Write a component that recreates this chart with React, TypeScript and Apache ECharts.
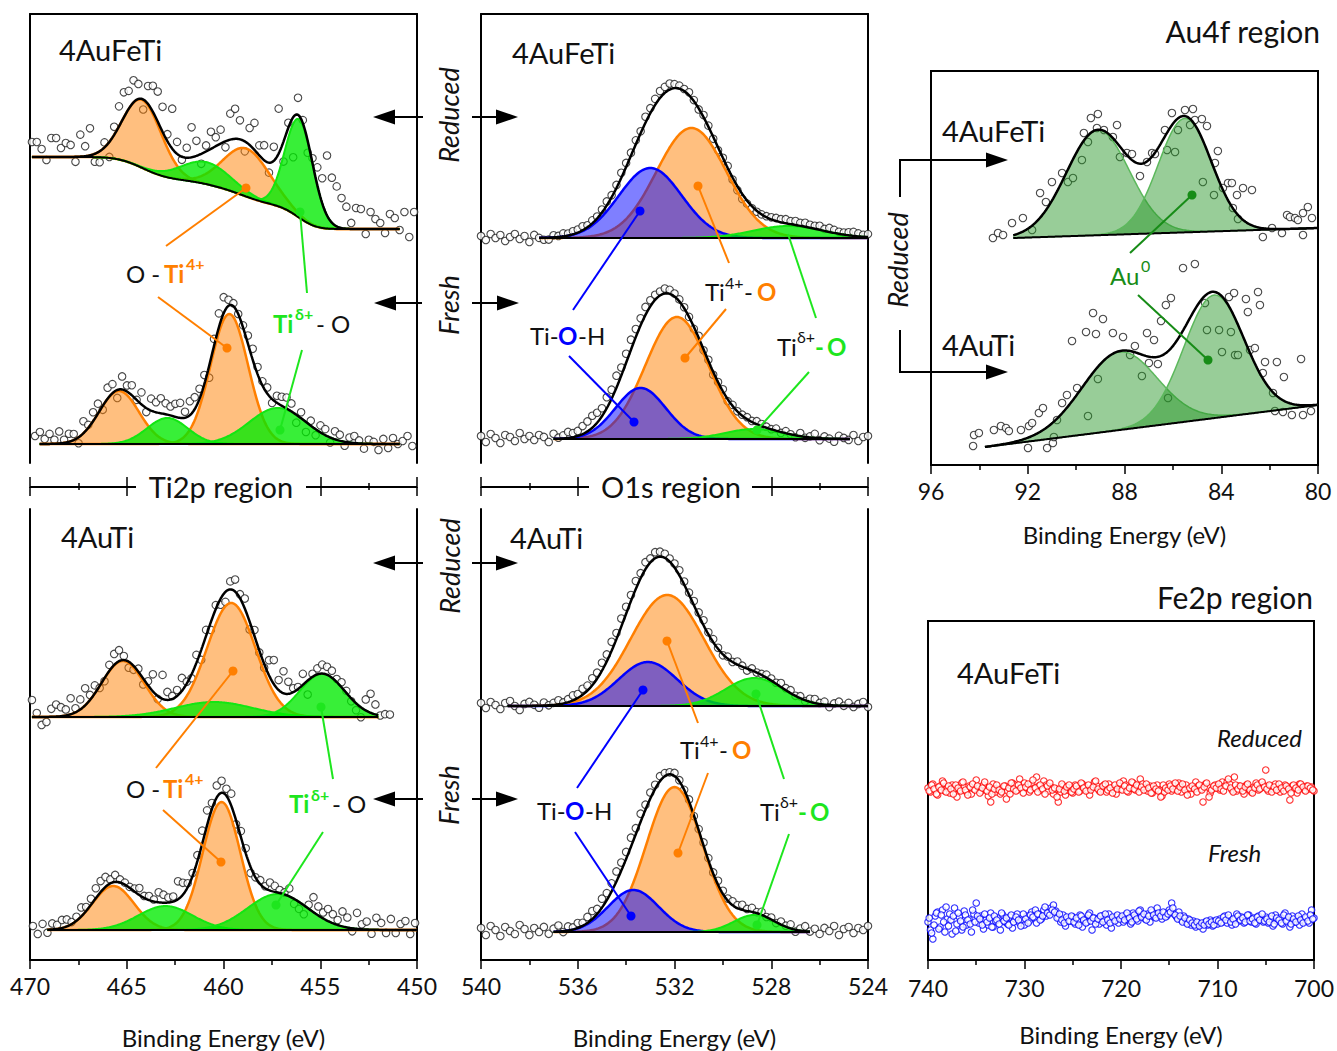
import React, { useEffect, useRef } from 'react';
import * as echarts from 'echarts';

const FONT = 'Lato';

// ===================== DATA =====================
// Axis ranges: [min, max, interval] in binding energy (eV)
const ti2pAxis = [450, 470, 5];
const o1sAxis = [524, 540, 4];
const au4fAxis = [80, 96, 4];
const fe2pAxis = [700, 740, 10];

// ---- Ti2p, 4AuFeTi, reduced (fit components: centre eV, height a.u., sigma eV) ----
const tiFeRedCenters = [464.2, 460.9, 458.8, 456.1];
const tiFeRedHeights = [68, 22, 48, 98];
const tiFeRedWidths = [1.0, 1.3, 1.2, 0.72];
const tiFeRedSpecies = ['Ti4+', 'Tid+', 'Ti4+', 'Tid+'];
const tiFeRedShirley = [306, 234];
const tiFeRedFit = [469.9, 450.9];
const tiFeRedScan = [469.9, 0.25];
const tiFeRedResid = [
  15, 15, 8, -3, 19, 19, 9, 14, 12, -5,
  22, 10, 27, -8, -11, 5, -15, 8, 20, 25,
  18, 22, 15, -10, 18, 26, 30, 25, 7, 40,
  12, -3, 10, 30, 15, -10, 6, 17, 9, 14,
  -6, 26, 30, 19, -10, 17, 27, 10, 15, -10,
  14, 45, -20, 5, -40, 17, 3, -12, 5, 18,
  25, 60, 45, 40, 30, 22, 6, 21, 20, -5,
  17, 10, 6, -4, 15, 11, -1, 17, -8, 17,
];

// ---- Ti2p, 4AuFeTi, fresh ----
const tiFeFreshCenters = [465.4, 462.9, 459.7, 457.2];
const tiFeFreshHeights = [53, 26, 130, 36];
const tiFeFreshWidths = [1.03, 1.05, 0.97, 1.47];
const tiFeFreshSpecies = ['Ti4+', 'Tid+', 'Ti4+', 'Tid+'];
const tiFeFreshShirley = [19, 19];
const tiFeFreshFit = [469.5, 450.9];
const tiFeFreshScan = [469.74, 0.25];
const tiFeFreshResid = [
  8, 12, 5, 10, 4, 12, 3, 8, 6, -6,
  12, 3, 9, 10, -4, 11, 9, -8, 13, 6,
  10, 0, 12, -4, 12, 10, 15, 11, 9, 13,
  15, 6, 14, 12, 10, 9, -12, 7, 14, 16,
  6, 3, 0, 2, 8, 11, 7, 4, 6, -4,
  7, 9, 11, 8, -8, 6, -10, 5, -6, 7,
  6, -5, 8, 6, -4, 5, 7, 3, -5, 4,
  2, -6, 5, -4, 6, 0, 3, 8, -2, 11,
];

// ---- Ti2p, 4AuTi, reduced ----
const tiRedCenters = [465.2, 460.5, 459.6, 454.9];
const tiRedHeights = [56, 15, 114, 43];
const tiRedWidths = [1.1, 2.0, 1.25, 1.16];
const tiRedSpecies = ['Ti4+', 'Tid+', 'Ti4+', 'Tid+'];
const tiRedShirley = [243, 243];
const tiRedFit = [469.9, 452.0];
const tiRedScan = [469.9, 0.25];
const tiRedResid = [
  17, 4, -8, -5, 8, 12, 9, 6, 16, 4,
  10, 17, 5, 8, -2, -3, 6, 11, 11, 4,
  -6, -4, 3, -6, 4, 17, -3, 24, 8, 3,
  6, 13, 2, -4, 8, -10, 6, -8, 4, -6,
  -10, 8, 12, 4, 10, -8, 6, -2, -4, 15,
  24, 10, 22, 12, 4, 2, 11, -14, 3, 6,
  9, 8, 7, 3, 5, 2, -3, -7, -10, 11,
  19, 10, 0, 2, 2,
];

// ---- Ti2p, 4AuTi, fresh ----
const tiFreshCenters = [465.7, 463.0, 460.1, 457.2];
const tiFreshHeights = [44, 24, 128, 36];
const tiFreshWidths = [1.07, 1.4, 0.97, 1.56];
const tiFreshSpecies = ['Ti4+', 'Tid+', 'Ti4+', 'Tid+'];
const tiFreshShirley = [30, 30];
const tiFreshFit = [469.1, 450.0];
const tiFreshScan = [469.85, 0.25];
const tiFreshResid = [
  4, -4, 6, -3, 6, 4, 8, 7, 2, 4,
  9, 4, 6, 10, 11, 10, 4, 7, 3, 2,
  1, 3, 7, 2, 4, 2, 10, 8, 5, 5,
  18, 12, 4, 3, 6, 13, 15, 6, 12, 12,
  7, 12, -4, 6, 5, -6, 0, 4, 2, 8,
  6, 3, 2, 8, -5, -7, -9, 4, 15, 9,
  6, 12, 9, 5, 15, 10, -3, 16, 5, 8,
  -4, 12, 7, -3, 11, -3, 6, 9, -4, 7,
];

// ---- O1s, 4AuFeTi, reduced ----
const oFeRedCenters = [531.3, 533.0, 527.3];
const oFeRedHeights = [110, 70, 12];
const oFeRedWidths = [1.44, 1.3, 1.45];
const oFeRedSpecies = ['Ti4+-O', 'Ti-O-H', 'Tid+-O'];
const oFeRedShirley = [225, 225];
const oFeRedFit = [537.6, 524.0];
const oFeRedScan = [540, 0.2];
const oFeRedResid = [
  2, -2, 4, 0, 3, -3, 1, 4, -1, 2,
  -4, 3, 0, -2, -2, 2, 1, 3, 2, 3,
  3, 4, 2, 3, 2, 3, 4, 2, 3, 5,
  4, 3, 4, 2, 6, 5, 6, 7, 6, 6,
  4, 3, 2, 3, 1, -1, 2, 1, -2, -3,
  0, 2, -2, -4, -5, -3, -2, -1, 0, 1,
  2, 3, 3, 4, 3, 4, 3, 4, 3, 3,
  4, 2, 4, 3, 2, 2, 3, 4, 3, 2,
  3,
];

// ---- O1s, 4AuFeTi, fresh ----
const oFeFreshCenters = [531.9, 533.4, 528.7];
const oFeFreshHeights = [122, 51, 10];
const oFeFreshWidths = [1.3, 1.04, 1.2];
const oFeFreshSpecies = ['Ti4+-O', 'Ti-O-H', 'Tid+-O'];
const oFeFreshShirley = [24, 24];
const oFeFreshFit = [537.0, 524.75];
const oFeFreshScan = [540, 0.2];
const oFeFreshResid = [
  3, -3, 5, 1, -4, 4, 2, -2, 6, 0,
  3, -1, 4, 2, -3, 5, 1, 3, 6, 4,
  5, 8, 10, 12, 10, 8, 11, 9, 12, 8,
  9, 10, 8, 7, 8, 6, 5, 4, 5, 4,
  3, 2, 1, 0, -2, 2, -1, 1, -3, 0,
  2, -2, 1, 0, 1, 2, 1, 3, 2, 1,
  0, 2, -1, 2, 0, -2, 3, -1, 1, 4,
  -2, 2, 0, -3, 3, 1, -1, 4, -2, 2,
  3,
];

// ---- O1s, 4AuTi, reduced ----
const oRedCenters = [532.3, 533.1, 528.7];
const oRedHeights = [111, 44, 28];
const oRedWidths = [1.51, 1.21, 1.18];
const oRedSpecies = ['Ti4+-O', 'Ti-O-H', 'Tid+-O'];
const oRedShirley = [254, 254];
const oRedFit = [538.9, 524.0];
const oRedScan = [540, 0.2];
const oRedResid = [
  3, -2, 4, 1, -3, 3, 5, 0, -4, 2,
  4, 1, -2, 3, 0, 2, 4, 1, 3, 5,
  4, 6, 5, 7, 6, 8, 7, 9, 6, 8,
  7, 6, 8, 5, 7, 4, 6, 5, 4, 3,
  4, 5, 3, 2, 4, 3, 5, 2, 3, 1,
  -1, 2, 0, 3, 1, -2, 2, 0, 1, 3,
  2, 1, 4, 2, 3, 0, 2, -1, 3, 4,
  1, 3, -2, 2, 4, 0, 3, -1, 2, 4,
  -1,
];

// ---- O1s, 4AuTi, fresh ----
const oFreshCenters = [532.0, 533.7, 528.7];
const oFreshHeights = [145, 42, 17];
const oFreshWidths = [1.16, 1.04, 0.85];
const oFreshSpecies = ['Ti4+-O', 'Ti-O-H', 'Tid+-O'];
const oFreshShirley = [28, 28];
const oFreshFit = [537.0, 526.4];
const oFreshScan = [540, 0.2];
const oFreshResid = [
  4, -3, 6, 2, -4, 5, 1, -2, 7, 3,
  -3, 4, 0, 5, -2, 3, 6, -1, 4, 2,
  5, 3, 6, 8, 5, 9, 7, 8, 10, 8,
  7, 9, 6, 8, 5, 6, 4, 5, 3, 2,
  3, 1, 0, 2, -1, 1, 3, 2, 1, 4,
  3, 2, 4, 3, 5, 2, 4, 1, 3, 0,
  2, -1, 3, 1, 4, -2, 2, 5, 0, 3,
  -2, 4, 1, 6, -3, 3, 5, -1, 4, 2,
  6,
];

// ---- Au4f, 4AuFeTi reduced ----
const auFeCenters = [89.1, 85.5];
const auFeHeights = [105, 114];
const auFeWidths = [1.3, 1.1];
const auFeSpecies = ['Au0', 'Au0'];
const auFeLinearBg = [92.6, 227, 80.0, 237];
const auFeFit = [92.6, 80.0];
const auFeE = [93.44, 93.23, 93.02, 92.65, 92.2, 91.82, 91.49, 91.25, 91.0, 90.58, 90.34, 90.13, 89.76, 89.68, 89.51, 89.39, 89.14, 89.1, 88.85, 88.48, 88.31, 88.19, 87.9, 87.69, 87.36, 87.07, 86.86, 86.74, 86.33, 86.24, 86.04, 85.91, 85.79, 85.5, 85.29, 85.17, 85.09, 84.8, 84.76, 84.59, 84.3, 84.26, 84.14, 83.93, 83.72, 83.56, 83.52, 83.35, 83.31, 83.1, 82.73, 82.28, 81.9, 81.49, 81.28, 81.16, 80.95, 80.83, 80.62, 80.62, 80.42, 80.25];
const auFeI = [227, 232, 230, 242, 247, 235, 272, 263, 283, 292, 283, 287, 305, 332, 323, 347, 337, 351, 335, 328, 340, 308, 312, 311, 289, 303, 312, 311, 335, 315, 352, 313, 335, 355, 340, 356, 345, 346, 283, 339, 270, 302, 314, 277, 282, 282, 257, 270, 246, 277, 275, 228, 237, 232, 250, 248, 247, 245, 252, 230, 258, 247];

// ---- Au4f, 4AuTi reduced ----
const auCenters = [88.2, 84.3];
const auHeights = [78, 123];
const auWidths = [1.55, 1.25];
const auSpecies = ['Au0', 'Au0'];
const auLinearBg = [93.77, 18, 80.0, 60];
const auFit = [93.77, 80.0];
const auE = [94.26, 94.22, 94.02, 93.4, 93.11, 92.9, 92.78, 92.28, 91.99, 91.95, 91.82, 91.54, 91.37, 91.2, 90.96, 90.92, 90.79, 90.58, 90.38, 90.17, 89.96, 89.59, 89.51, 89.3, 89.18, 89.1, 88.89, 88.48, 88.06, 87.77, 87.57, 87.28, 87.07, 86.99, 86.78, 86.62, 86.49, 86.29, 86.2, 86.08, 85.58, 85.09, 84.67, 84.59, 84.09, 83.97, 83.68, 83.6, 83.47, 83.43, 83.31, 82.98, 82.9, 82.81, 82.61, 82.48, 82.4, 82.28, 82.19, 81.86, 81.78, 81.7, 81.45, 81.41, 81.08, 80.7, 80.62, 80.29];
const auI = [19, 30, 32, 35, 39, 37, 34, 35, 17, 39, 42, 52, 57, 17, 22, 28, 45, 62, 70, 124, 77, 133, 49, 152, 131, 86, 146, 132, 128, 110, 119, 89, 132, 102, 125, 101, 144, 160, 67, 167, 197, 201, 162, 135, 135, 113, 168, 133, 172, 110, 110, 166, 153, 115, 117, 173, 160, 92, 103, 72, 54, 103, 53, 88, 50, 106, 50, 54];

// ---- Fe2p, 4AuFeTi: two interleaved 0.25 eV passes (740 -> 700 eV) ----
const feScanA = [740, 0.25];
const feScanB = [739.875, 0.25];
const feReducedA = [
  172, 168, 176, 170, 165, 174, 179, 169, 172, 167, 175, 171, 163, 170, 177, 173, 168, 174, 166, 171,
  180, 172, 169, 175, 170, 164, 158, 176, 168, 171, 166, 172, 174, 169, 166, 177, 175, 170, 181, 173,
  177, 171, 168, 176, 172, 183, 174, 170, 179, 175, 169, 173, 166, 171, 158, 168, 174, 165, 170, 172,
  167, 175, 171, 169, 176, 173, 170, 165, 172, 178, 174, 169, 171, 175, 168, 176, 172, 170, 166, 174,
  171, 179, 175, 168, 172, 177, 170, 173, 181, 176, 172, 169, 174, 167, 171, 175, 170, 164, 168, 172,
  176, 169, 174, 171, 177, 168, 173, 175, 170, 166, 172, 178, 174, 171, 158, 176, 173, 167, 171, 175,
  172, 170, 178, 174, 178, 176, 170, 183, 169, 174, 172, 166, 175, 171, 168, 173, 177, 170, 172, 175,
  190, 169, 174, 171, 176, 170, 168, 173, 175, 172, 160, 174, 171, 167, 176, 172, 170, 174, 171, 173,
  169,
];
const feReducedB = [
  169, 175, 171, 166, 173, 170, 177, 168, 174, 171, 166, 175, 172, 169, 178, 170, 165, 173, 176, 170,
  174, 167, 172, 178, 169, 173, 166, 171, 175, 170, 168, 174, 161, 172, 177, 171, 169, 175, 172, 167,
  173, 176, 170, 180, 172, 168, 175, 171, 166, 174, 177, 170, 172, 163, 171, 176, 169, 173, 175, 168,
  171, 174, 168, 177, 172, 169, 175, 170, 173, 179, 171, 168, 174, 176, 170, 172, 167, 175, 171, 177,
  170, 174, 169, 172, 178, 171, 175, 168, 173, 170, 176, 172, 167, 174, 171, 169, 163, 175, 172, 170,
  174, 171, 177, 169, 173, 176, 170, 165, 172, 174, 171, 168, 175, 170, 173, 177, 163, 170, 174, 172,
  176, 171, 169, 174, 181, 172, 168, 175, 171, 174, 169, 173, 176, 170, 167, 172, 175, 171, 178, 173,
  171, 175, 168, 173, 170, 176, 172, 169, 174, 171, 167, 175, 172, 170, 176, 173, 169, 174, 172, 170,
];
const feFreshA = [
  38, 30, 21, 44, 48, 33, 50, 28, 41, 46, 26, 52, 36, 43, 30, 49, 35, 41, 28, 46,
  57, 37, 44, 31, 40, 35, 47, 33, 39, 42, 30, 45, 38, 36, 43, 32, 41, 46, 37, 40,
  35, 44, 39, 48, 42, 37, 46, 41, 50, 44, 47, 52, 55, 49, 43, 38, 45, 34, 41, 39,
  43, 36, 40, 45, 33, 41, 38, 47, 30, 42, 39, 36, 44, 41, 35, 46, 32, 40, 43, 37,
  42, 38, 45, 40, 36, 47, 43, 39, 50, 44, 41, 46, 38, 48, 43, 52, 45, 41, 47, 44,
  50, 57, 46, 43, 48, 40, 44, 38, 41, 35, 39, 33, 37, 36, 31, 38, 35, 40, 34, 39,
  36, 41, 38, 44, 37, 42, 35, 40, 46, 39, 43, 37, 41, 45, 38, 42, 36, 44, 40, 38,
  43, 37, 41, 34, 45, 39, 42, 36, 47, 40, 33, 44, 38, 41, 35, 46, 39, 42, 37, 50,
  42,
];
const feFreshB = [
  42, 27, 35, 47, 31, 45, 38, 53, 34, 40, 44, 29, 47, 39, 33, 45, 40, 36, 50, 38,
  44, 41, 35, 46, 38, 42, 33, 44, 40, 36, 47, 39, 42, 35, 45, 38, 43, 40, 34, 46,
  41, 37, 45, 43, 50, 46, 40, 44, 53, 47, 45, 50, 48, 42, 46, 40, 37, 43, 39, 44,
  38, 42, 35, 44, 40, 37, 45, 39, 42, 36, 41, 44, 38, 46, 40, 37, 43, 39, 45, 41,
  44, 40, 47, 42, 38, 45, 41, 49, 43, 46, 40, 44, 50, 45, 42, 47, 44, 48, 43, 46,
  48, 52, 45, 41, 44, 38, 42, 36, 40, 37, 35, 38, 34, 37, 35, 39, 36, 38, 35, 40,
  39, 37, 43, 40, 45, 38, 41, 36, 44, 40, 42, 38, 45, 39, 41, 37, 43, 40, 46, 39,
  41, 38, 44, 36, 42, 40, 37, 45, 39, 43, 36, 41, 38, 44, 40, 37, 43, 39, 45, 41,
];

// ===================== STYLES =====================
const ORANGE = '#ff7f00';
const GREEN = '#1ee61e';
const BLUE = '#0000ff';
const AUGREEN = '#178c17';
const INK = '#111111';

const STY: any = {
  'Ti4+': { line: ORANGE, fill: 'rgba(255,128,0,0.5)', lw: 2.5, order: 0 },
  'Ti4+-O': { line: ORANGE, fill: 'rgba(255,128,0,0.5)', lw: 2.5, order: 0 },
  'Ti-O-H': { line: BLUE, fill: 'rgba(0,0,255,0.5)', lw: 2.5, order: 1 },
  'Tid+': { line: '#12e612', fill: 'rgba(0,235,0,0.78)', lw: 2, order: 2 },
  'Tid+-O': { line: '#12e612', fill: 'rgba(0,235,0,0.78)', lw: 2, order: 2 },
  'Au0': { line: '#5cb85c', fill: 'rgba(40,150,40,0.48)', lw: 1.5, order: 0 },
};

// ===================== MODEL HELPERS =====================
function erf(x: number) {
  const s = x < 0 ? -1 : 1;
  const a = Math.abs(x);
  const t = 1 / (1 + 0.3275911 * a);
  const y = 1 - (((((1.061405429 * t - 1.453152027) * t) + 1.421413741) * t - 0.284496736) * t + 0.254829592) * t * Math.exp(-a * a);
  return s * y;
}

function spec(c: number[], h: number[], w: number[], sp: string[], bg: number[], kind: string, fit: number[]) {
  return { c, h, w, sp, bg, kind, fit };
}

function comp(s: any, k: number, E: number) {
  const d = (E - s.c[k]) / s.w[k];
  return s.h[k] * Math.exp(-0.5 * d * d);
}

function bgAt(s: any, E: number) {
  if (s.kind === 'linear') {
    const [e0, v0, e1, v1] = s.bg;
    return v0 + (v1 - v0) * (E - e0) / (e1 - e0);
  }
  let tot = 0;
  let part = 0;
  s.c.forEach((c: number, k: number) => {
    const a = s.h[k] * s.w[k];
    tot += a;
    part += a * 0.5 * (1 + erf((E - c) / (s.w[k] * Math.SQRT2)));
  });
  return s.bg[1] + (s.bg[0] - s.bg[1]) * part / tot;
}

function model(s: any, E: number) {
  let v = bgAt(s, E);
  for (let k = 0; k < s.c.length; k++) v += comp(s, k, E);
  return v;
}

function fineGrid(s: any) {
  const n = Math.round((s.fit[0] - s.fit[1]) / 0.05);
  const out: number[] = [];
  for (let i = 0; i <= n; i++) out.push(+(s.fit[0] - i * 0.05).toFixed(3));
  return out;
}

function scanPoints(s: any, scan: number[], resid: number[]) {
  return resid.map((r, i) => {
    const E = +(scan[0] - i * scan[1]).toFixed(3);
    return [E, model(s, E) + r];
  });
}

function rawScan(scan: number[], values: number[]) {
  return values.map((v, i) => [+(scan[0] - i * scan[1]).toFixed(3), v]);
}

// filled component band between background and background+component, drawn through the axes
function bandSeries(xi: number, yi: number, es: number[], base: number[], top: number[], st: any) {
  return {
    type: 'custom', xAxisIndex: xi, yAxisIndex: yi, coordinateSystem: 'cartesian2d', silent: true, z: 2,
    data: es.map((E, i) => [E, top[i], base[i]]),
    renderItem: (params: any, api: any) => {
      if (params.dataIndex !== 0) return null;
      const upper = es.map((E, i) => api.coord([E, top[i]]));
      const lower = es.map((E, i) => api.coord([E, base[i]])).reverse();
      return {
        type: 'group',
        children: [
          { type: 'polygon', shape: { points: upper.concat(lower) }, style: { fill: st.fill, stroke: 'none' } },
          { type: 'polyline', shape: { points: upper }, style: { stroke: st.line, lineWidth: st.lw, fill: 'none' } },
        ],
      };
    },
  };
}

function spectrumSeries(s: any, xi: number, yi: number, pts: number[][]) {
  const es = fineGrid(s);
  const base = es.map((E) => bgAt(s, E));
  const list: any[] = [];
  list.push({
    type: 'scatter', xAxisIndex: xi, yAxisIndex: yi, data: pts, symbol: 'circle', symbolSize: 7.5,
    itemStyle: { color: '#ffffff', borderColor: '#1a1a1a', borderWidth: 1.1 }, z: 1, silent: true,
  });
  const order = s.c.map((_: any, k: number) => k).sort((a: number, b: number) => STY[s.sp[a]].order - STY[s.sp[b]].order);
  order.forEach((k: number) => {
    const top = es.map((E, i) => base[i] + comp(s, k, E));
    list.push(bandSeries(xi, yi, es, base, top, STY[s.sp[k]]));
  });
  list.push({
    type: 'line', xAxisIndex: xi, yAxisIndex: yi, data: es.map((E) => [E, model(s, E)]),
    symbol: 'none', lineStyle: { color: '#000', width: 2.5 }, z: 3, silent: true,
  });
  list.push({
    type: 'line', xAxisIndex: xi, yAxisIndex: yi, data: es.map((E, i) => [E, base[i]]),
    symbol: 'none', lineStyle: { color: '#000', width: 2 }, z: 3, silent: true,
  });
  return list;
}

// ===================== AXES =====================
function energyAxis(grid: number, ax: number[], position: string, full: boolean, nameGap = 65, margin = 14) {
  return {
    type: 'value', gridIndex: grid, min: ax[0], max: ax[1], interval: ax[2], inverse: true, position,
    axisLine: { show: true, onZero: false, lineStyle: { color: '#000', width: 2 } },
    axisTick: { show: full, length: 9, lineStyle: { color: '#000', width: 1.5 } },
    minorTick: { show: full, splitNumber: 2, length: 5, lineStyle: { color: '#000', width: 1.5 } },
    axisLabel: { show: full, fontSize: 23, fontFamily: FONT, color: INK, margin, showMinLabel: true, showMaxLabel: true },
    splitLine: { show: false }, minorSplitLine: { show: false },
    name: full ? 'Binding Energy (eV)' : '', nameLocation: 'middle', nameGap,
    nameTextStyle: { fontSize: 24, fontFamily: FONT, color: INK },
  };
}

function regionAxis(grid: number, ax: number[], position: string, line: boolean) {
  return {
    type: 'value', gridIndex: grid, min: ax[0], max: ax[1], interval: ax[2], inverse: true, position,
    axisLine: { show: line, onZero: false, lineStyle: { color: '#000', width: 2 } },
    axisTick: { show: true, length: 9, lineStyle: { color: '#000', width: 1.5 } },
    minorTick: { show: true, splitNumber: 2, length: 3, lineStyle: { color: '#000', width: 1.5 } },
    axisLabel: { show: false }, splitLine: { show: false }, minorSplitLine: { show: false },
  };
}

function yAx(grid: number, max: number, position: string, line: boolean) {
  return {
    type: 'value', gridIndex: grid, min: 0, max, position,
    axisLine: { show: line, onZero: false, lineStyle: { color: '#000', width: 2 } },
    axisTick: { show: false }, axisLabel: { show: false }, splitLine: { show: false },
  };
}

// ===================== ANNOTATIONS =====================
function txt(x: number, y: number, text: string, o: any = {}) {
  return {
    type: 'text', x, y, z: 100, rotation: o.rot || 0,
    style: {
      text, fill: o.color || INK, fontSize: o.size || 24, fontFamily: FONT,
      fontWeight: o.bold ? 'bold' : 'normal', fontStyle: o.italic ? 'italic' : 'normal',
      align: o.align || 'left', verticalAlign: 'middle', textAlign: o.align || 'left', textVerticalAlign: 'middle',
    },
  };
}
function seg(x1: number, y1: number, x2: number, y2: number, color: string, w = 2) {
  return { type: 'line', z: 100, shape: { x1, y1, x2, y2 }, style: { stroke: color, lineWidth: w } };
}
function dot(cx: number, cy: number, color: string, r = 4.5) {
  return { type: 'circle', z: 100, shape: { cx, cy, r }, style: { fill: color } };
}
function arrow(x1: number, x2: number, y: number) {
  const dir = Math.sign(x2 - x1);
  const hl = 22;
  const hw = 7.5;
  return [
    seg(x1, y, x2 - dir * (hl - 2), y, '#000', 2),
    { type: 'polygon', z: 100, shape: { points: [[x2, y], [x2 - dir * hl, y - hw], [x2 - dir * hl, y + hw]] }, style: { fill: '#000' } },
  ];
}

function buildGraphics() {
  const g: any[] = [];
  // region separators
  g.push({ type: 'rect', z: 99, shape: { x: 136, y: 473, width: 170, height: 28 }, style: { fill: '#fff' } });
  g.push(txt(221, 486, 'Ti2p region', { size: 29, align: 'center' }));
  g.push({ type: 'rect', z: 99, shape: { x: 589, y: 473, width: 163, height: 28 }, style: { fill: '#fff' } });
  g.push(txt(671, 486, 'O1s region', { size: 29, align: 'center' }));
  g.push(txt(1320, 31, 'Au4f region', { size: 30, align: 'right' }));
  g.push(txt(1313, 597, 'Fe2p region', { size: 30, align: 'right' }));
  // sample names
  g.push(txt(59, 49, '4AuFeTi', { size: 29 }));
  g.push(txt(512, 52, '4AuFeTi', { size: 29 }));
  g.push(txt(61, 536, '4AuTi', { size: 29 }));
  g.push(txt(510, 537, '4AuTi', { size: 29 }));
  g.push(txt(942, 130, '4AuFeTi', { size: 29 }));
  g.push(txt(942, 344, '4AuTi', { size: 29 }));
  g.push(txt(957, 672, '4AuFeTi', { size: 29 }));
  // state labels + arrows
  const R = Math.PI / 2;
  g.push(txt(448, 115, 'Reduced', { size: 27, italic: true, rot: R, align: 'center' }));
  g.push(txt(448, 305, 'Fresh', { size: 27, italic: true, rot: R, align: 'center' }));
  g.push(txt(449, 566, 'Reduced', { size: 27, italic: true, rot: R, align: 'center' }));
  g.push(txt(448, 795, 'Fresh', { size: 27, italic: true, rot: R, align: 'center' }));
  g.push(...arrow(423, 373, 117), ...arrow(472, 518, 117));
  g.push(...arrow(422, 374, 303), ...arrow(472, 519, 303));
  g.push(...arrow(423, 373, 563), ...arrow(472, 518, 563));
  g.push(...arrow(423, 373, 799), ...arrow(472, 518, 799));
  // Au4f bracket arrows
  g.push(txt(897, 260, 'Reduced', { size: 27, italic: true, rot: R, align: 'center' }));
  g.push({ type: 'polyline', z: 100, shape: { points: [[900, 197], [900, 160], [988, 160]] }, style: { stroke: '#000', lineWidth: 2, fill: null } });
  g.push(...arrow(986, 1008, 160));
  g.push({ type: 'polyline', z: 100, shape: { points: [[900, 330], [900, 372], [988, 372]] }, style: { stroke: '#000', lineWidth: 2, fill: null } });
  g.push(...arrow(986, 1008, 372));
  // Fe2p states
  g.push(txt(1302, 737, 'Reduced', { size: 24, italic: true, align: 'right' }));
  g.push(txt(1208, 852, 'Fresh', { size: 24, italic: true }));

  // ---- Ti2p 4AuFeTi annotations ----
  g.push(txt(126, 273, 'O -'), txt(164, 273, 'Ti', { color: ORANGE, bold: true }), txt(186, 263, '4+', { color: ORANGE, bold: true, size: 16 }));
  g.push(seg(166, 246, 246, 188, ORANGE), dot(246, 188, ORANGE), seg(158, 297, 227, 348, ORANGE), dot(227, 348, ORANGE));
  g.push(txt(273, 323, 'Ti', { color: GREEN, bold: true }), txt(295, 313, 'δ+', { color: GREEN, bold: true, size: 16 }), txt(316, 323, '- O'));
  g.push(seg(307, 293, 300, 212, GREEN), dot(300, 212, GREEN), seg(302, 350, 280, 430, GREEN), dot(280, 430, GREEN));
  // ---- Ti2p 4AuTi annotations ----
  g.push(txt(126, 788, 'O -'), txt(163, 788, 'Ti', { color: ORANGE, bold: true }), txt(185, 778, '4+', { color: ORANGE, bold: true, size: 16 }));
  g.push(seg(156, 768, 233, 671, ORANGE), dot(233, 671, ORANGE), seg(163, 810, 221, 862, ORANGE), dot(221, 862, ORANGE));
  g.push(txt(289, 803, 'Ti', { color: GREEN, bold: true }), txt(311, 794, 'δ+', { color: GREEN, bold: true, size: 16 }), txt(332, 803, '- O'));
  g.push(seg(333, 779, 321, 707, GREEN), dot(321, 707, GREEN), seg(323, 832, 276, 905, GREEN), dot(276, 905, GREEN));
  // ---- O1s 4AuFeTi annotations ----
  g.push(txt(530, 335, 'Ti-'), txt(558, 335, 'O', { color: BLUE, bold: true }), txt(578, 335, '-H'));
  g.push(seg(573, 310, 640, 211, BLUE), dot(640, 211, BLUE), seg(569, 356, 634, 422, BLUE), dot(634, 422, BLUE));
  g.push(txt(705, 291, 'Ti'), txt(725, 282, '4+', { size: 16 }), txt(744, 291, '-'), txt(757, 291, 'O', { color: ORANGE, bold: true }));
  g.push(seg(698, 186, 729, 263, ORANGE), dot(698, 186, ORANGE), seg(726, 309, 685, 358, ORANGE), dot(685, 358, ORANGE));
  g.push(txt(777, 346, 'Ti'), txt(797, 336, 'δ+', { size: 16 }), txt(815, 346, '-', { color: GREEN, bold: true }), txt(827, 346, 'O', { color: GREEN, bold: true }));
  g.push(seg(788, 234, 816, 318, GREEN), seg(809, 372, 757, 430, GREEN), dot(757, 430, GREEN));
  // ---- O1s 4AuTi annotations ----
  g.push(txt(537, 810, 'Ti-'), txt(565, 810, 'O', { color: BLUE, bold: true }), txt(585, 810, '-H'));
  g.push(seg(577, 788, 643, 690, BLUE), dot(643, 690, BLUE), seg(575, 832, 631, 916, BLUE), dot(631, 916, BLUE));
  g.push(txt(680, 749, 'Ti'), txt(700, 740, '4+', { size: 16 }), txt(719, 749, '-'), txt(732, 749, 'O', { color: ORANGE, bold: true }));
  g.push(seg(667, 641, 698, 723, ORANGE), dot(667, 641, ORANGE), seg(708, 773, 678, 853, ORANGE), dot(678, 853, ORANGE));
  g.push(txt(760, 811, 'Ti'), txt(780, 801, 'δ+', { size: 16 }), txt(798, 811, '-', { color: GREEN, bold: true }), txt(810, 811, 'O', { color: GREEN, bold: true }));
  g.push(seg(756, 694, 784, 779, GREEN), dot(756, 694, GREEN), seg(789, 834, 757, 925, GREEN), dot(757, 925, GREEN));
  // ---- Au0 ----
  g.push(txt(1110, 275, 'Au', { color: AUGREEN, size: 24 }), txt(1141, 265, '0', { color: AUGREEN, size: 16 }));
  g.push(seg(1130, 253, 1192, 195, AUGREEN), dot(1192, 195, AUGREEN), seg(1138, 295, 1208, 360, AUGREEN), dot(1208, 360, AUGREEN));
  return g;
}

// ===================== OPTION =====================
function feSeries(data: number[][], color: string) {
  return {
    type: 'scatter', xAxisIndex: 5, yAxisIndex: 9, symbol: 'circle', symbolSize: 6.5, silent: true, data,
    itemStyle: { color: '#ffffff', borderColor: color, borderWidth: 1.1 },
  };
}

function buildOption() {
  const sTiFeRed = spec(tiFeRedCenters, tiFeRedHeights, tiFeRedWidths, tiFeRedSpecies, tiFeRedShirley, 'shirley', tiFeRedFit);
  const sTiFeFresh = spec(tiFeFreshCenters, tiFeFreshHeights, tiFeFreshWidths, tiFeFreshSpecies, tiFeFreshShirley, 'shirley', tiFeFreshFit);
  const sTiRed = spec(tiRedCenters, tiRedHeights, tiRedWidths, tiRedSpecies, tiRedShirley, 'shirley', tiRedFit);
  const sTiFresh = spec(tiFreshCenters, tiFreshHeights, tiFreshWidths, tiFreshSpecies, tiFreshShirley, 'shirley', tiFreshFit);
  const sOFeRed = spec(oFeRedCenters, oFeRedHeights, oFeRedWidths, oFeRedSpecies, oFeRedShirley, 'shirley', oFeRedFit);
  const sOFeFresh = spec(oFeFreshCenters, oFeFreshHeights, oFeFreshWidths, oFeFreshSpecies, oFeFreshShirley, 'shirley', oFeFreshFit);
  const sORed = spec(oRedCenters, oRedHeights, oRedWidths, oRedSpecies, oRedShirley, 'shirley', oRedFit);
  const sOFresh = spec(oFreshCenters, oFreshHeights, oFreshWidths, oFreshSpecies, oFreshShirley, 'shirley', oFreshFit);
  const sAuFe = spec(auFeCenters, auFeHeights, auFeWidths, auFeSpecies, auFeLinearBg, 'linear', auFeFit);
  const sAu = spec(auCenters, auHeights, auWidths, auSpecies, auLinearBg, 'linear', auFit);

  const series: any[] = [
    ...spectrumSeries(sTiFeRed, 0, 0, scanPoints(sTiFeRed, tiFeRedScan, tiFeRedResid)),
    ...spectrumSeries(sTiFeFresh, 0, 0, scanPoints(sTiFeFresh, tiFeFreshScan, tiFeFreshResid)),
    ...spectrumSeries(sOFeRed, 1, 2, scanPoints(sOFeRed, oFeRedScan, oFeRedResid)),
    ...spectrumSeries(sOFeFresh, 1, 2, scanPoints(sOFeFresh, oFeFreshScan, oFeFreshResid)),
    ...spectrumSeries(sTiRed, 2, 4, scanPoints(sTiRed, tiRedScan, tiRedResid)),
    ...spectrumSeries(sTiFresh, 2, 4, scanPoints(sTiFresh, tiFreshScan, tiFreshResid)),
    ...spectrumSeries(sORed, 3, 6, scanPoints(sORed, oRedScan, oRedResid)),
    ...spectrumSeries(sOFresh, 3, 6, scanPoints(sOFresh, oFreshScan, oFreshResid)),
    ...spectrumSeries(sAuFe, 4, 8, auFeE.map((e, i) => [e, auFeI[i]])),
    ...spectrumSeries(sAu, 4, 8, auE.map((e, i) => [e, auI[i]])),
    feSeries(rawScan(feScanA, feReducedA).concat(rawScan(feScanB, feReducedB)), '#ff0000'),
    feSeries(rawScan(feScanA, feFreshA).concat(rawScan(feScanB, feFreshB)), '#0000ff'),
  ];

  return {
    animation: false,
    backgroundColor: '#ffffff',
    textStyle: { fontFamily: FONT },
    grid: [
      { left: 30, top: 14, width: 387, height: 449 },
      { left: 481, top: 14, width: 387, height: 449 },
      { left: 30, top: 509, width: 387, height: 451 },
      { left: 481, top: 509, width: 387, height: 451 },
      { left: 931, top: 71, width: 387, height: 394, show: true, borderColor: '#000', borderWidth: 2 },
      { left: 928, top: 621, width: 388, height: 339, show: true, borderColor: '#000', borderWidth: 2 },
      { left: 30, top: 486, width: 387, height: 1 },
      { left: 481, top: 486, width: 387, height: 1 },
    ],
    xAxis: [
      energyAxis(0, ti2pAxis, 'top', false),
      energyAxis(1, o1sAxis, 'top', false),
      energyAxis(2, ti2pAxis, 'bottom', true, 65, 14),
      energyAxis(3, o1sAxis, 'bottom', true, 65, 14),
      energyAxis(4, au4fAxis, 'bottom', true, 57, 14),
      energyAxis(5, fe2pAxis, 'bottom', true, 62, 16),
      regionAxis(6, ti2pAxis, 'bottom', true),
      regionAxis(6, ti2pAxis, 'top', false),
      regionAxis(7, o1sAxis, 'bottom', true),
      regionAxis(7, o1sAxis, 'top', false),
    ],
    yAxis: [
      yAx(0, 449, 'left', true), yAx(0, 449, 'right', true),
      yAx(1, 449, 'left', true), yAx(1, 449, 'right', true),
      yAx(2, 451, 'left', true), yAx(2, 451, 'right', true),
      yAx(3, 451, 'left', true), yAx(3, 451, 'right', true),
      yAx(4, 394, 'left', false),
      yAx(5, 339, 'left', false),
      yAx(6, 1, 'left', false),
      yAx(7, 1, 'left', false),
    ],
    series,
    graphic: { elements: buildGraphics() },
  };
}

export default function App() {
  const ref = useRef<HTMLDivElement>(null);
  useEffect(() => {
    const chart = echarts.init(ref.current as HTMLDivElement, undefined, { renderer: 'svg' });
    chart.setOption(buildOption() as any);
    return () => chart.dispose();
  }, []);
  return (
    <div
      ref={ref}
      style={{ position: 'absolute', left: 0, top: 0, width: 1337, height: 1051, background: '#fff' }}
    />
  );
}
